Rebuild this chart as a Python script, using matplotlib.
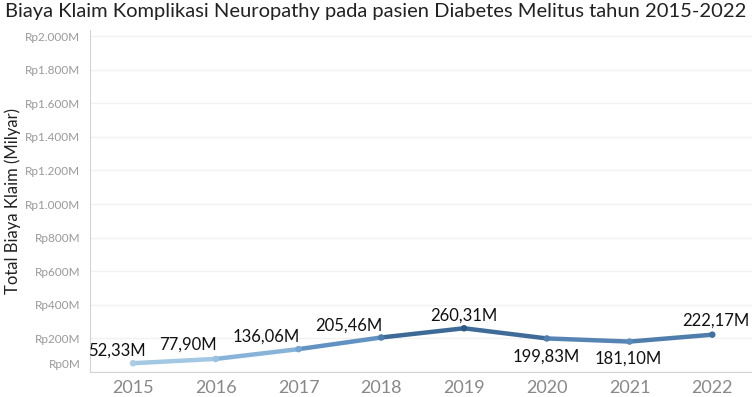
import numpy as np
import matplotlib.pyplot as plt
from matplotlib.collections import LineCollection
from matplotlib.colors import LinearSegmentedColormap, Normalize
import matplotlib.transforms as mtransforms

plt.rcParams['font.family'] = ['Lato', 'DejaVu Sans']

years = ['2015', '2016', '2017', '2018', '2019', '2020', '2021', '2022']
claims = [52.33, 77.90, 136.06, 205.46, 260.31, 199.83, 181.10, 222.17]
labels = ['52,33M', '77,90M', '136,06M', '205,46M', '260,31M', '199,83M', '181,10M', '222,17M']
y_ticks = [0, 200, 400, 600, 800, 1000, 1200, 1400, 1600, 1800, 2000]

# label offsets in pixels (dx, dy)
label_offsets = [(-16, 13), (-28, 14), (-32, 13), (-32, 12), (0, 13), (-1, -18), (-1, -17), (4, 14)]

cmap = LinearSegmentedColormap.from_list('tblue', ['#aacee6', '#6a9bcb', '#2d5885'])
norm = Normalize(vmin=min(claims), vmax=max(claims))

fig = plt.figure(figsize=(7.52, 3.97), dpi=100)
ax = fig.add_axes([90 / 752, 25 / 397, 1 - 90 / 752, (372 - 30) / 397])

x = np.arange(len(years))
y = np.array(claims)

pts = np.column_stack([x, y]).reshape(-1, 1, 2)
segs = np.concatenate([pts[:-1], pts[1:]], axis=1)
seg_vals = (y[:-1] + y[1:]) / 2
lc = LineCollection(segs, colors=cmap(norm(seg_vals)), linewidths=3.2, capstyle='round', joinstyle='round', zorder=3)
ax.add_collection(lc)
ax.scatter(x, y, c=cmap(norm(y)), s=22, zorder=4, edgecolors='none')

for xi, yi, lab, (dx, dy) in zip(x, y, labels, label_offsets):
    ax.annotate(lab, (xi, yi), xytext=(dx, dy), textcoords='offset pixels',
                ha='center', va='center', fontsize=12, color='#111111', zorder=5)

ax.set_xlim(-0.52, 7.48)
ax.set_ylim(0, 2036)
ax.set_xticks(x)
ax.set_xticklabels(years)
ax.set_yticks(y_ticks)
ax.set_yticklabels([f"Rp{v:,}M".replace(',', '.') for v in y_ticks])

ax.tick_params(axis='y', length=0, pad=7, labelsize=8.5, labelcolor='#999999')
ax.tick_params(axis='x', length=0, pad=6, labelsize=13, labelcolor='#888888')

# nudge Rp0M up like the reference
lbl0 = ax.get_yticklabels()[0]
lbl0.set_transform(lbl0.get_transform() + mtransforms.ScaledTranslation(0, 8 / 100, fig.dpi_scale_trans))

ax.grid(axis='y', color='#f2f2f2', linewidth=1)
ax.set_axisbelow(True)
for s in ['top', 'right']:
    ax.spines[s].set_visible(False)
ax.spines['left'].set_color('#d4d4d4')
ax.spines['bottom'].set_color('#d4d4d4')

ax.set_ylabel('Total Biaya Klaim (Milyar)', fontsize=12, color='#222222')
ax.yaxis.set_label_coords(-69 / 662, 0.5)

fig.text(5 / 752, 1 - 12 / 397, 'Biaya Klaim Komplikasi Neuropathy pada pasien Diabetes Melitus tahun 2015-2022',
         ha='left', va='center', fontsize=14.5, color='#222222')

fig.savefig('out.png', dpi=100)
